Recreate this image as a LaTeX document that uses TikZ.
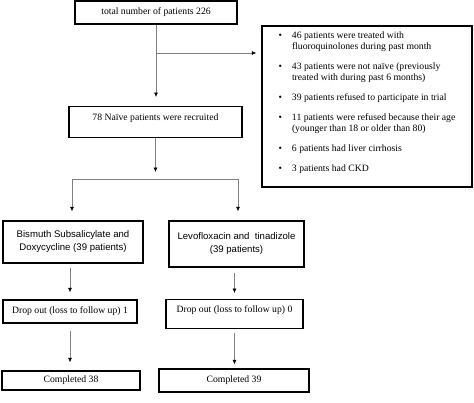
\documentclass[tikz,border=0pt]{standalone}
\usepackage{fontspec}
\setmainfont{Liberation Serif}
\newfontfamily\arialfont{Liberation Sans}
\usetikzlibrary{arrows.meta}

\begin{document}
\begin{tikzpicture}[x=1pt, y=-1pt,
    font=\fontsize{9.7}{11.5}\selectfont,
    box/.style={draw, line width=1.3pt, inner sep=0pt},
    link/.style={draw=gray, line width=0.6pt},
    arr/.style={link, -{Latex[color=black, length=4.5pt, width=4pt]}},
    sans/.style={font=\arialfont\fontsize{9.6}{13}\selectfont, align=center}]
    \useasboundingbox (0,0) rectangle (474,402);

    \node[box, minimum width=162pt, minimum height=23pt] (total) at (156,12.5) {total number of patients 226};
    \node[box, minimum width=173pt, text height=14pt, text depth=17pt, anchor=north] (naive) at (155.5,106) {78 Naïve patients were recruited};
    \node[box, minimum width=210pt, minimum height=161pt] (excl) at (367,106.5) {\begin{tabular}{@{}l@{\hspace{10pt}}l@{}}
        \textbullet & 46 patients were treated with\\
         & fluoroquinolones during past month\\[8.3pt]
        \textbullet & 43 patients were not naïve (previously\\
         & treated with during past 6 months)\\[8.3pt]
        \textbullet & 39 patients refused to participate in trial\\[8.3pt]
        \textbullet & 11 patients were refused because their age\\
         & (younger than 18 or older than 80)\\[8.3pt]
        \textbullet & 6 patients had liver cirrhosis\\[8.3pt]
        \textbullet & 3 patients had CKD\\[8pt]
    \end{tabular}};

    \node[box, sans, minimum width=140pt, minimum height=42pt] (bismuth) at (73,242) {Bismuth Subsalicylate and\\Doxycycline (39 patients)};
    \node[box, sans, minimum width=135pt, minimum height=46pt] (levo) at (236.5,244) {Levofloxacin and~ tinadizole\\(39 patients)};

    \node[box, minimum width=134pt, minimum height=23pt] (drop1) at (70,311.5) {Drop out (loss to follow up) 1};
    \node[box, minimum width=137pt, text height=13pt, text depth=16pt, anchor=north] (drop0) at (234.5,299) {Drop out (loss to follow up) 0};

    \node[box, minimum width=138pt, minimum height=19pt] (done38) at (71,380.5) {Completed 38};
    \node[box, minimum width=150pt, minimum height=23pt] (done39) at (234,380.5) {Completed 39};

    \coordinate (fork) at (156,53);
    \coordinate (split) at (155.5,179);
    \coordinate (splitL) at (72,179);
    \coordinate (splitR) at (238,179);

    \draw[arr, shorten >=9pt] (total.south) -- (total.south |- naive.north);
    \draw[arr, shorten >=5pt] (fork) -- (fork -| excl.west);
    \draw[arr, shorten >=7pt] (naive.south) -- (split);
    \draw[link] (splitL) -- (splitR);
    \draw[arr, shorten >=9pt] (splitL) -- (splitL |- bismuth.north);
    \draw[arr, shorten >=9pt] (splitR) -- (splitR |- levo.north);

    \draw[arr, shorten <=4pt, shorten >=7pt] (drop1.north |- bismuth.south) -- (drop1.north);
    \draw[arr, shorten <=5pt, shorten >=6pt] (drop0.north |- levo.south) -- (drop0.north);
    \draw[arr, shorten <=7pt, shorten >=8pt] (drop1.south) -- (drop1.south |- done38.north);
    \draw[arr, shorten <=4pt, shorten >=4pt] (drop0.south) -- (drop0.south |- done39.north);
\end{tikzpicture}
\end{document}
